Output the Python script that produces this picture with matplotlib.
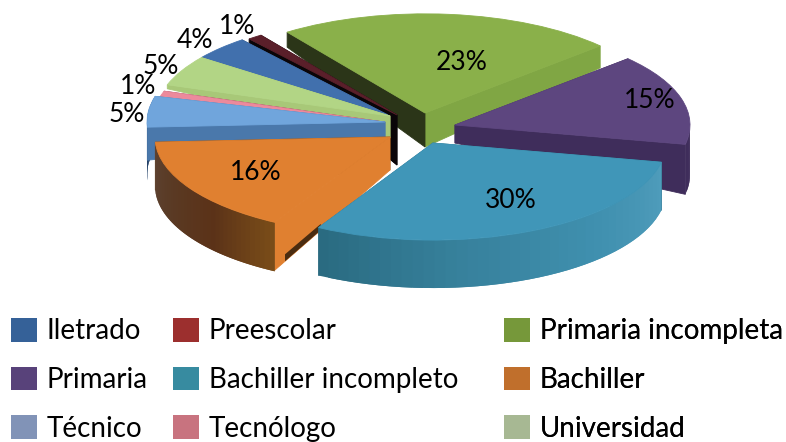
import numpy as np
import matplotlib
matplotlib.use("Agg")
import matplotlib.pyplot as plt
from matplotlib.patches import Patch, Polygon
from matplotlib.colors import to_rgb

plt.rcParams['font.family'] = ['Lato', 'DejaVu Sans']

# ---- data
categories = ["Iletrado", "Preescolar", "Primaria incompleta", "Primaria",
              "Bachiller incompleto", "Bachiller", "Técnico", "Tecnólogo", "Universidad"]
values = [4, 1, 23, 15, 30, 16, 5, 1, 5]

# ---- style / layout (not data)
legend_colors = ["#356198", "#9c2f2e", "#76983a", "#58427a", "#378ba0",
                 "#c06f2c", "#8193b7", "#c8737f", "#a7b893"]
top_colors = ["#4170ad", "#5a1f2a", "#8ab04a", "#5d467f", "#4096b8",
              "#e08030", "#70a5dc", "#ec8a9c", "#b2d585"]
side1 = ["#1f3a5c", "#0a0508", "#80a644", "#3f2d5b", "#2a6a80",
         "#6a4018", "#4a78ab", "#7a3040", "#a8c878"]
side2 = ["#1f3a5c", "#0a0508", "#2b3518", "#3f2d5b", "#2a6a80",
         "#e08030", "#4a78ab", "#7a3040", "#a8c878"]
arc_stops = [["#1f3a5c"], ["#0a0508"], ["#2b3518"], ["#3f2d5b", "#3f2d5b"],
             ["#2a6a80", "#37819c", "#3f8fae", "#4f9dbb"],
             ["#5c4232", "#5a3a24", "#5b3218", "#7a4d18"],
             ["#1f3f66"], ["#7a3040"], ["#a8c878"]]
apex_px = [(388, 115), (397, 115), (425, 113), (455, 125), (433, 143),
           (390, 137), (385, 122), (384, 122), (390, 116)]
radii = [232, 235, 238, 235, 233, 235, 238, 232, 235]
depth_apex = [20, 50, 34, 18, 48, 33, 16, 5, 22]
depth_rim_radial = [6, 8, 22, 50, 48, 48, 33, 4, 4]
depth_rim_radial2 = [6, 8, 15, 50, 48, 48, 33, 4, 4]
depth_arc = [6, 8, 15, 50, 48, 49, 53, 4, 4]
radial_above_arc = ["Técnico"]
draw_order = [2, 1, 0, 8, 7, 6, 5, 3, 4]
label_px = [(195, 40), (237, 27), (462, 62), (650, 101), (511, 201),
            (256, 173), (127, 115), (138, 87), (161, 67)]
S = 2.4
W, H = 786, 442


def lerp(a, b, t):
    return a + (b - a) * t


def grad(stops, t):
    if len(stops) == 1:
        return stops[0]
    p = t * (len(stops) - 1)
    i = min(int(p), len(stops) - 2)
    c0, c1 = to_rgb(stops[i]), to_rgb(stops[i + 1])
    return tuple(lerp(c0[k], c1[k], p - i) for k in range(3))


fig = plt.figure(figsize=(W / 100, H / 100), dpi=100, facecolor="white")
ax = fig.add_axes([0, 0, 1, 1])
wedges, _ = ax.pie(values, startangle=143.4, counterclock=False, radius=235,
                   colors=top_colors, center=(0, 0), frame=False,
                   wedgeprops=dict(linewidth=0))
for w, c in zip(wedges, top_colors):
    w.set_edgecolor(c)
    w.set_linewidth(0.6)
ax.set_aspect("auto")
ax.set_xlim(0, W)
ax.set_ylim(-H * S, 0)
ax.axis("off")


def add_poly(pts, color, z, lw=0.0):
    ax.add_patch(Polygon(pts, closed=True, facecolor=color,
                         edgecolor=color if lw else "none", linewidth=lw, zorder=z))


for rank, i in enumerate(draw_order):
    w = wedges[i]
    z = 10 + rank * 10
    cx, cy = apex_px[i][0], -S * apex_px[i][1]
    r = radii[i]
    w.set_center((cx, cy))
    w.set_radius(r)
    w.set_zorder(z + 5)
    t1, t2 = np.radians(w.theta1), np.radians(w.theta2)
    keep_all = categories[i] in radial_above_arc

    # arc side, each segment overlapping the next so no seams show;
    # only the part on the near half of the rim can be seen
    n = 40
    ts = np.linspace(t1, t2, n + 1)
    for k in range(n):
        a, b = ts[k], ts[min(k + 2, n)]
        if np.sin(a) > 0 and not keep_all:
            continue
        d = S * depth_arc[i]
        pts = [(cx + r * np.cos(a), cy + r * np.sin(a)),
               (cx + r * np.cos(b), cy + r * np.sin(b)),
               (cx + r * np.cos(b), cy + r * np.sin(b) - d),
               (cx + r * np.cos(a), cy + r * np.sin(a) - d)]
        add_poly(pts, grad(arc_stops[i], (k + 0.5) / n), z + 1 + k * 0.001)

    # radial sides
    zr = z + 2 if keep_all else z + 0.5
    for ang, dr, col in ((t1, depth_rim_radial[i], side1[i]), (t2, depth_rim_radial2[i], side2[i])):
        ex, ey = cx + r * np.cos(ang), cy + r * np.sin(ang)
        pts = [(cx, cy), (ex, ey), (ex, ey - S * dr), (cx, cy - S * depth_apex[i])]
        add_poly(pts, col, zr, lw=0.6)

    # dark gap strip under the front radial side of the orange slice
    if categories[i] == "Bachiller":
        ex, ey = cx + r * np.cos(t2), cy + r * np.sin(t2)
        db, da = S * depth_rim_radial2[i], S * depth_apex[i]
        p = lambda t, f: (lerp(ex, cx, t), lerp(ey - f * db, cy - f * da, t))
        add_poly([p(0.09, 1.0), p(0.40, 1.0), p(0.40, 0.85), p(0.09, 0.85)], "#4a2c10", z + 3)

for i, (v, (px, py)) in enumerate(zip(values, label_px)):
    ax.text(px, -S * py, f"{v}%", ha="center", va="center", fontsize=19,
            color="black", zorder=200)

# legend: three columns of three rows
col_x = [11, 173, 504]
for c, x in enumerate(col_x):
    idx = [c, c + 3, c + 6]
    handles = [Patch(facecolor=legend_colors[j], edgecolor="none", label=categories[j]) for j in idx]
    leg = ax.legend(handles=handles, loc="upper left", bbox_to_anchor=(x / W, 1 - 318 / H),
                    bbox_transform=fig.transFigure, frameon=False, fontsize=20,
                    borderpad=0, borderaxespad=0, handlelength=0.92, handleheight=0.93,
                    handletextpad=0.36, labelspacing=0.8)
    leg.set_zorder(300)
    ax.add_artist(leg)

fig.savefig("out.png", dpi=100)
